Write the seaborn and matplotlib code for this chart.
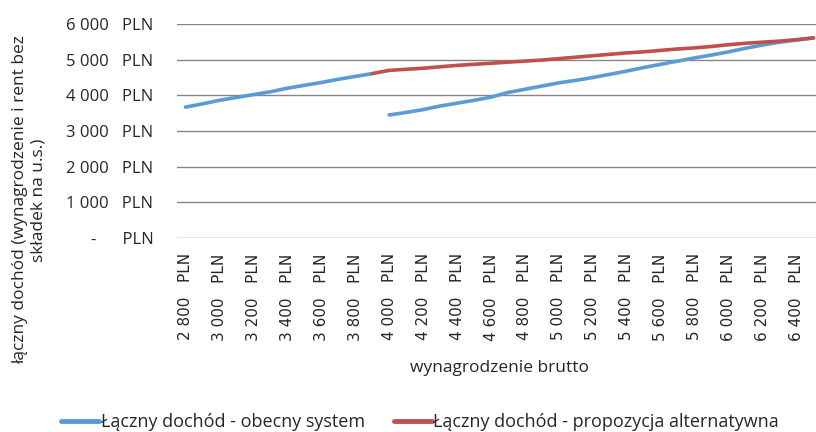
import matplotlib
matplotlib.use('Agg')
import matplotlib.pyplot as plt
import seaborn as sns
import pandas as pd

# wynagrodzenie brutto (co 100 PLN)
salary_current_a = [2800, 2900, 3000, 3100, 3200, 3300, 3400, 3500, 3600, 3700, 3800, 3900]
income_current_a = [3670, 3760, 3860, 3940, 4020, 4100, 4200, 4280, 4360, 4450, 4530, 4610]

salary_current_b = list(range(4000, 6501, 100))
income_current_b = [3450, 3520, 3600, 3700, 3780, 3860, 3950, 4080, 4170, 4260,
                    4350, 4420, 4500, 4590, 4680, 4780, 4870, 4960, 5050, 5130,
                    5220, 5320, 5410, 5490, 5550, 5610]

salary_alt = list(range(3900, 6501, 100))
income_alt = [4610, 4700, 4730, 4760, 4800, 4840, 4870, 4900, 4930, 4960,
              4990, 5030, 5070, 5110, 5150, 5190, 5220, 5260, 5300, 5330,
              5370, 5420, 5460, 5490, 5520, 5560, 5610]

series_names = ['Łączny dochód - obecny system', 'Łączny dochód - propozycja alternatywna']
colors = ['#5B9BD5', '#C0504D']
x_ticks = list(range(2800, 6401, 200))
y_ticks = [0, 1000, 2000, 3000, 4000, 5000, 6000]

df = pd.concat([
    pd.DataFrame({'brutto': salary_current_a, 'dochod': income_current_a,
                  'seria': series_names[0], 'odcinek': 'a'}),
    pd.DataFrame({'brutto': salary_current_b, 'dochod': income_current_b,
                  'seria': series_names[0], 'odcinek': 'b'}),
    pd.DataFrame({'brutto': salary_alt, 'dochod': income_alt,
                  'seria': series_names[1], 'odcinek': 'c'}),
])

sns.set_style('white')
plt.rcParams['font.family'] = ['Open Sans', 'DejaVu Sans']

fig = plt.figure(figsize=(8.16, 4.32), dpi=100)
ax = fig.add_axes([177 / 816, 194 / 432, (822 - 177) / 816, 214 / 432])

sns.lineplot(
    data=df,
    x='brutto',
    y='dochod',
    hue='seria',
    units='odcinek',
    estimator=None,
    hue_order=series_names,
    palette=colors,
    linewidth=2.6,
    solid_capstyle='round',
    ax=ax
)

def y_label(v):
    if v == 0:
        return '-      PLN'
    return f'{int(v):,}'.replace(',', ' ') + '   PLN'

def x_label(v):
    return f'{int(v):,}'.replace(',', ' ') + '   PLN'

ax.set_xlim(2750, 6550)
ax.set_ylim(0, 6000)
ax.set_yticks(y_ticks)
ax.set_yticklabels([y_label(v) for v in y_ticks], fontsize=12)
ax.set_xticks(x_ticks)
ax.set_xticklabels([x_label(v) for v in x_ticks], rotation=90, fontsize=11,
                   family=['DejaVu Sans'])
ax.tick_params(axis='x', length=0, pad=11)
ax.tick_params(axis='y', length=0, pad=17)

ax.grid(axis='y', color='#868686', linewidth=1)
ax.grid(axis='x', visible=False)
for s in ax.spines.values():
    s.set_visible(False)

ax.set_xlabel('wynagrodzenie brutto', fontsize=12.5)
ax.xaxis.set_label_coords(499 / 816, 1 - 368 / 432, transform=fig.transFigure)
ax.xaxis.label.set_va('center')
ax.set_ylabel('')
fig.text(29 / 816, 1 - 200 / 432, 'łączny dochód (wynagrodzenie i rent bez\nskładek na u.s.)',
         rotation=90, ha='center', va='center', ma='center', fontsize=12.5,
         linespacing=1.2)

handles, labels = ax.get_legend_handles_labels()
ax.legend(handles, labels, loc='center', bbox_to_anchor=(420 / 816, 1 - 422 / 432),
          bbox_transform=fig.transFigure, ncol=2, frameon=False, fontsize=13,
          handlelength=2.1, handletextpad=0.1, columnspacing=1.6)
for line in ax.get_legend().get_lines():
    line.set_linewidth(3.5)

plt.savefig('out.png', dpi=100)
